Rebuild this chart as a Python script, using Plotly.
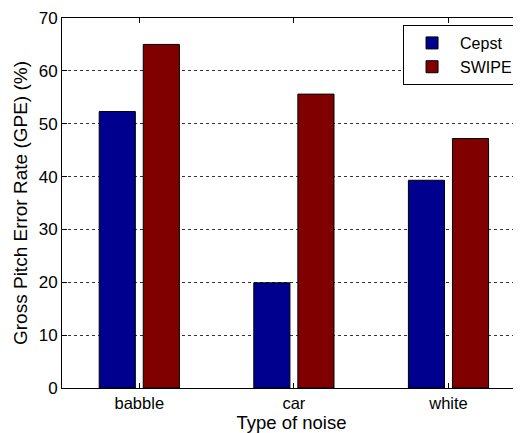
import plotly.graph_objects as go

categories = ["babble", "car", "white"]
cepst = [52.3, 19.9, 39.3]
swipe = [65.0, 55.6, 47.2]
x_pos = [1, 2, 3]

fig = go.Figure()
fig.add_trace(go.Bar(x=x_pos, y=cepst, name="Cepst",
                     marker=dict(color="#00008F", line=dict(color="black", width=1))))
fig.add_trace(go.Bar(x=x_pos, y=swipe, name="SWIPE",
                     marker=dict(color="#800000", line=dict(color="black", width=1))))

# page body has an 8px default margin; size/margins compensate for it
fig.update_layout(
    width=513, height=425,
    margin=dict(l=54, r=0, t=10, b=45),
    paper_bgcolor="white", plot_bgcolor="white",
    barmode="group", bargap=0.43, bargroupgap=0.18,
    font=dict(family="Liberation Sans, Arial", size=16, color="black"),
    legend=dict(x=0.743, y=0.981, xanchor="left", yanchor="top",
                bordercolor="black", borderwidth=1, bgcolor="white",
                font=dict(size=16), tracegroupgap=0, itemwidth=46),
    xaxis=dict(range=[0.5, 3.469], tickvals=x_pos, ticktext=categories,
               showline=True, linecolor="black", linewidth=1, mirror="ticks",
               ticks="inside", ticklen=5, tickcolor="black", showgrid=False,
               zeroline=False, tickfont=dict(size=16.5), automargin=False,
               title=dict(text="Type of noise", font=dict(size=18.5), standoff=2)),
    yaxis=dict(range=[0, 70], dtick=10, showline=True, linecolor="black",
               linewidth=1, ticks="inside", ticklen=5, tickcolor="black",
               showgrid=True, gridcolor="#333", griddash="dot", gridwidth=0.8,
               zeroline=False, tickfont=dict(size=17), automargin=False,
               title=dict(text="Gross Pitch Error Rate (GPE) (%)", font=dict(size=19), standoff=6)),
)
fig.write_html("out.html")
